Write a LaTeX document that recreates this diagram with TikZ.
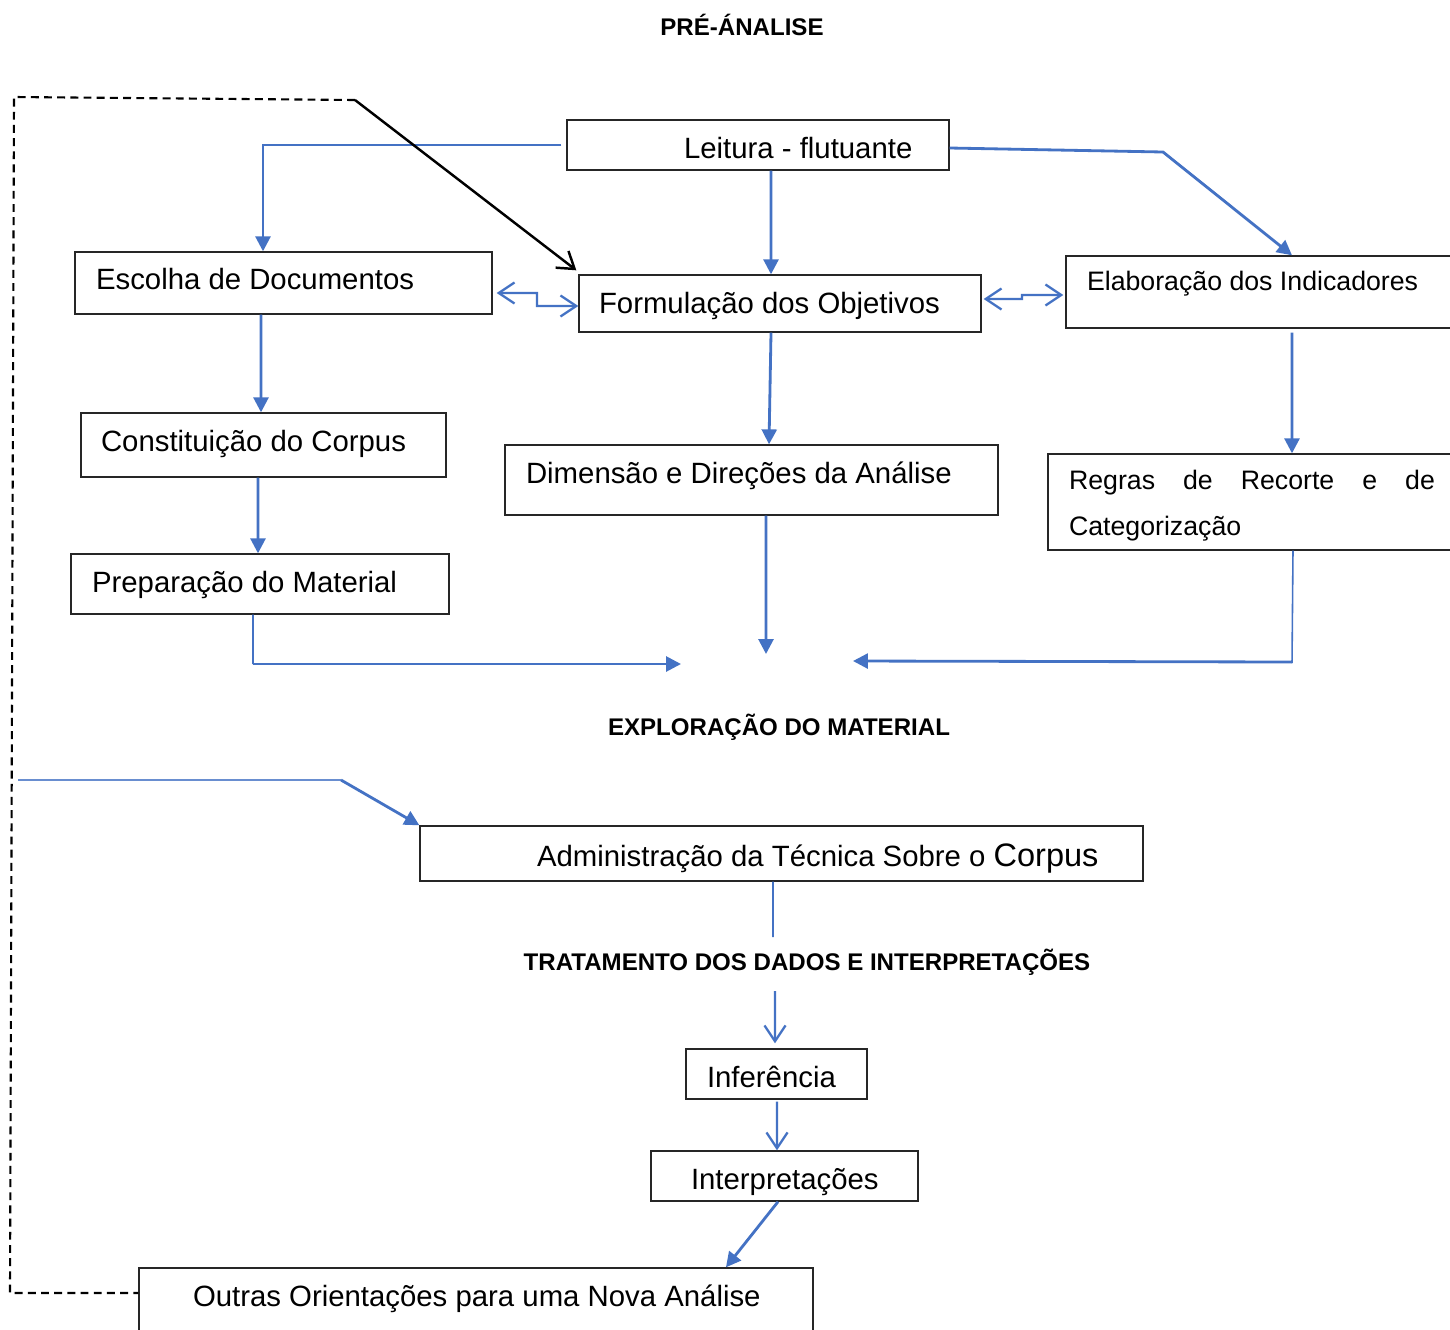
\documentclass[tikz,border=0pt]{standalone}
\usepackage{fontspec}
\setmainfont{Liberation Sans}
\usetikzlibrary{arrows.meta}
\definecolor{blu}{HTML}{4472C4}
\newcommand\fmain{\fontsize{16.7}{20}\selectfont}
\newcommand\fsmall{\fontsize{15.2}{18}\selectfont}
\newcommand\fhead{\fontsize{13.7}{16}\selectfont\bfseries}
\newcommand\bt[4]{\makebox[#1][l]{\hspace*{#2}\raisebox{#3}[0pt][0pt]{#4}}}
\begin{document}
\begin{tikzpicture}[x=0.02cm,y=-0.02cm,
 box/.style={draw=black!85,line width=0.8pt,inner sep=0pt,font=\fmain},
 head/.style={inner sep=0pt,font=\fhead,text height=9.8pt,text depth=0pt},
 ln/.style={draw=blu,line width=1.6pt},
 thn/.style={draw=blu,line width=0.9pt},
 fa/.style={-{Triangle[length=8.5pt,width=8.5pt]}},
 oa/.style={-{Straight Barb[length=9pt,width=12pt]}},
 boa/.style={{Straight Barb[length=9pt,width=12pt]}-{Straight Barb[length=9pt,width=12pt]}},
 ]
\useasboundingbox (0,0) rectangle (1450,1329);
\clip (0,0) rectangle (1450,1329);
\fill[white] (0,0) rectangle (1450,1329);

% headers
\node[head] (h1) at (742,27) {PRÉ-ÁNALISE};
\node[head] (h2) at (779,727) {EXPLORAÇÃO DO MATERIAL};
\node[head] (h3) at (807,962) {TRATAMENTO DOS DADOS E INTERPRETAÇÕES};

% boxes
\node[box,minimum width=7.64cm,minimum height=1cm] (lei) at (758,145) {\bt{7.64cm}{2.34cm}{-7.6pt}{Leitura - flutuante}};
\node[box,minimum width=8.34cm,minimum height=1.24cm] (esc) at (283.5,283) {\bt{8.34cm}{0.42cm}{-3.6pt}{Escolha de Documentos}};
\node[box,minimum width=8.04cm,minimum height=1.14cm] (for) at (780,303.5) {\bt{8.04cm}{0.40cm}{-5.9pt}{Formulação dos Objetivos}};
\node[box,font=\fsmall,minimum width=8.4cm,minimum height=1.44cm] (ela) at (1276,292) {\bt{8.4cm}{0.42cm}{0.8pt}{Elaboração dos Indicadores}};
\node[box,minimum width=7.3cm,minimum height=1.28cm] (con) at (263.5,445) {\bt{7.3cm}{0.4cm}{-3.6pt}{Constituição do Corpus}};
\node[box,minimum width=9.86cm,minimum height=1.4cm] (dim) at (751.5,480) {\bt{9.86cm}{0.42cm}{-1.9pt}{Dimensão e Direções da Análise}};
\node[box,font=\fsmall,minimum width=8.44cm,minimum height=1.92cm] (reg) at (1259,502) {\bt{8.44cm}{0.42cm}{-19pt}{\parbox[b]{7.4cm}{\baselineskip=26pt \makebox[7.32cm][s]{Regras de Recorte e de}\\Categorização}}};
\node[box,minimum width=7.56cm,minimum height=1.2cm] (pre) at (260,584) {\bt{7.56cm}{0.42cm}{-4.8pt}{Preparação do Material}};
\node[box,minimum width=14.46cm,minimum height=1.1cm] (adm) at (781.5,853.5) {\bt{14.46cm}{2.34cm}{-7.3pt}{Administração da Técnica Sobre o {\fontsize{18.5}{22}\selectfont Corpus}}};
\node[box,minimum width=3.62cm,minimum height=1cm] (inf) at (776.5,1074) {\bt{3.62cm}{0.42cm}{-7.6pt}{Inferência}};
\node[box,minimum width=5.34cm,minimum height=1cm] (int) at (784.5,1176) {\bt{5.34cm}{0.8cm}{-7.6pt}{Interpretações}};
\node[box,minimum width=13.48cm,minimum height=1.44cm] (out) at (476,1304) {\bt{13.48cm}{1.08cm}{-1.4pt}{Outras Orientações para uma Nova Análise}};

% free points
\coordinate (d1) at (355,100);
\coordinate (d2) at (14,97);
\coordinate (d3) at (10,1293);
\coordinate (k1) at (1163,152);
\coordinate (a1) at (681,664);
\coordinate (a2) at (766,654);
\coordinate (a3) at (853,661);
\coordinate (e1) at (18,780);
\coordinate (e2) at (341,780);
\coordinate (t1) at (773,937);
\coordinate (t2) at (775,991);

% connectors
\draw[ln,fa] ([xshift=-0.1cm]lei.west) -| ([xshift=-0.41cm]esc.north);
\draw[black,line width=1.4pt,oa] (d1) -- ([shift={(-0.04cm,0.08cm)}]for.north west);
\draw[black,line width=1.2pt,dash pattern=on 4.5pt off 3pt] (d1) -- (d2) -- (d3) -- ([yshift=0.22cm]out.west);
\draw[ln,fa] ([xshift=0.26cm]lei.south) -- ([xshift=-0.18cm]for.north);
\draw[ln,fa] ([yshift=-0.06cm]lei.east) -- (k1) -- ([xshift=0.32cm]ela.north);
\draw[ln,line width=1.3pt,boa] ([shift={(0.08cm,-0.2cm)}]esc.east) -- (537,293) -- (537,306) -- ([yshift=-0.05cm]for.west);
\draw[ln,line width=1.3pt,boa] ([shift={(0.04cm,0.09cm)}]for.east) -- (1022,299) -- (1022,295) -- ([shift={(-0.04cm,-0.06cm)}]ela.west);
\draw[ln,fa] ([xshift=-0.45cm]esc.south) -- ([xshift=-0.05cm]con.north);
\draw[ln,fa] ([xshift=-0.11cm]con.south) -- ([xshift=-0.04cm]pre.north);
\draw[thn] ([xshift=-0.14cm]pre.south) -- (253,664);
\draw[ln,fa] (253,664) -- (a1);
\draw[ln,fa] ([xshift=-0.18cm]for.south) -- ([xshift=0.35cm]dim.north);
\draw[ln,fa] ([shift={(0.32cm,-0.08cm)}]ela.south) -- ([xshift=0.66cm]reg.north);
\draw[ln,fa] ([xshift=0.29cm]dim.south) -- (a2);
\draw[thn] ([xshift=0.68cm]reg.south) -- (1292,663);
\draw[ln,fa] (1292,662) -- (a3);
\draw[thn,draw=blu!80] (e1) -- (e2);
\draw[ln,fa] (e2) -- (adm.north west);
\draw[thn] ([xshift=-0.17cm]adm.south) -- (t1);
\draw[ln,line width=1.3pt,oa] (t2) -- ([shift={(-0.03cm,0.1cm)}]inf.north);
\draw[ln,line width=1.3pt,oa] ([shift={(0.01cm,-0.04cm)}]inf.south) -- ([xshift=-0.15cm]int.north);
\draw[ln,fa] ([xshift=-0.13cm]int.south) -- ([xshift=5cm]out.north);
\end{tikzpicture}
\end{document}
